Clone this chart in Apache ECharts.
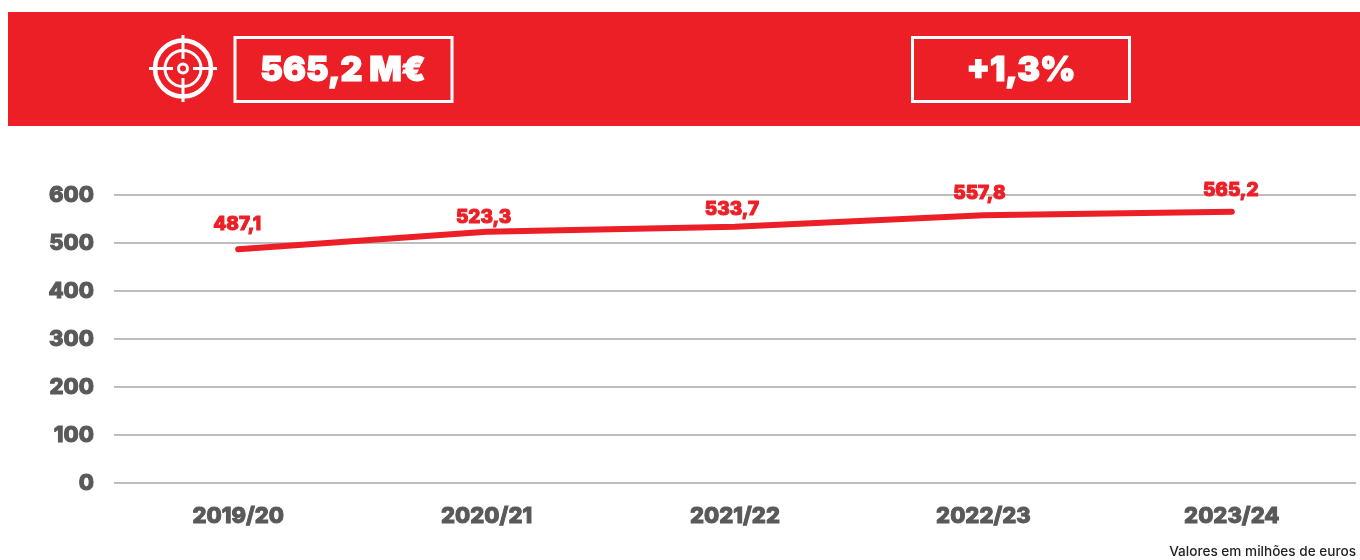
<!DOCTYPE html>
<html>
<head>
<meta charset="utf-8">
<style>
  html, body { margin: 0; padding: 0; background: #fff; }
  #chart { width: 1360px; height: 560px; }
</style>
<script src="https://cdn.jsdelivr.net/npm/echarts@6/dist/echarts.min.js"></script>
</head>
<body>
<div id="chart"></div>
<script>
const seasons = ['2019/20', '2020/21', '2021/22', '2022/23', '2023/24'];
const revenue = [487.1, 523.3, 533.7, 557.8, 565.2];
const headlineValue = '565,2 M€';
const headlineChange = '+1,3%';
const footnote = 'Valores em milhões de euros';

// hand placed data labels, the source nudges each one differently
const labelNudge = [[-1, -9], [-3, 1], [-3, -2], [-4, -6], [-1, -6]];

const red = '#ed1f26';
const grey = '#58595b';
const font = 'Inter, "Noto Sans", sans-serif';

const chart = echarts.init(document.getElementById('chart'));

const whiteStroke = w => ({ fill: 'none', stroke: '#fff', lineWidth: w });
const ring = (r, w) => ({ type: 'circle', shape: { cx: 183, cy: 68.5, r }, style: whiteStroke(w) });
const tick = (x1, y1, x2, y2) => ({ type: 'line', shape: { x1, y1, x2, y2 }, style: whiteStroke(3) });
const box = x => ({ type: 'rect', shape: { x, y: 37.5, width: 217, height: 64 }, style: whiteStroke(3) });
const bigText = (x, text) => ({
  type: 'text', x, y: 71,
  style: {
    text, fill: '#fff', stroke: '#fff', lineWidth: 1.2,
    font: `900 34px ${font}`, align: 'center', verticalAlign: 'middle'
  }
});
// Inter has no real black here, a thin outline in the same colour thickens it
const heavy = color => ({
  color, fontFamily: font, fontWeight: 800,
  textBorderColor: color, textBorderWidth: 1
});

chart.setOption({
  animation: false,
  grid: { left: 114, right: 4, top: 195, height: 288 },
  xAxis: {
    type: 'category',
    data: seasons,
    axisLine: { show: false },
    axisTick: { show: false },
    axisLabel: { ...heavy(grey), fontSize: 22, margin: 22 }
  },
  yAxis: {
    type: 'value',
    min: 0,
    max: 600,
    interval: 100,
    axisLine: { show: false },
    axisTick: { show: false },
    axisLabel: { ...heavy(grey), fontSize: 22, margin: 20, padding: [6, 0, 0, 0] },
    splitLine: { lineStyle: { color: '#bcbec0', width: 2 } }
  },
  series: [{
    type: 'line',
    data: revenue.map((value, i) => ({
      value,
      label: { offset: labelNudge[i] }
    })),
    symbol: 'circle',
    symbolSize: 2,
    showSymbol: true,
    itemStyle: { color: red },
    lineStyle: { color: red, width: 6, cap: 'round' },
    label: {
      show: true,
      position: 'top',
      ...heavy(red),
      fontSize: 19,
      formatter: p => p.value.toFixed(1).replace('.', ',')
    }
  }],
  graphic: [
    { type: 'rect', shape: { x: 8, y: 12, width: 1352, height: 114 }, style: { fill: red } },
    ring(28, 4.5),
    ring(18, 3),
    ring(4.5, 3),
    tick(149, 68.5, 173, 68.5),
    tick(193, 68.5, 217, 68.5),
    tick(183, 35, 183, 59),
    tick(183, 78, 183, 102),
    box(235),
    box(912.5),
    bigText(343, headlineValue),
    bigText(1021, headlineChange),
    {
      type: 'text', right: 4, top: 545,
      style: { text: footnote, fill: '#231f20', font: `500 13.6px ${font}` }
    }
  ]
});
</script>
</body>
</html>
